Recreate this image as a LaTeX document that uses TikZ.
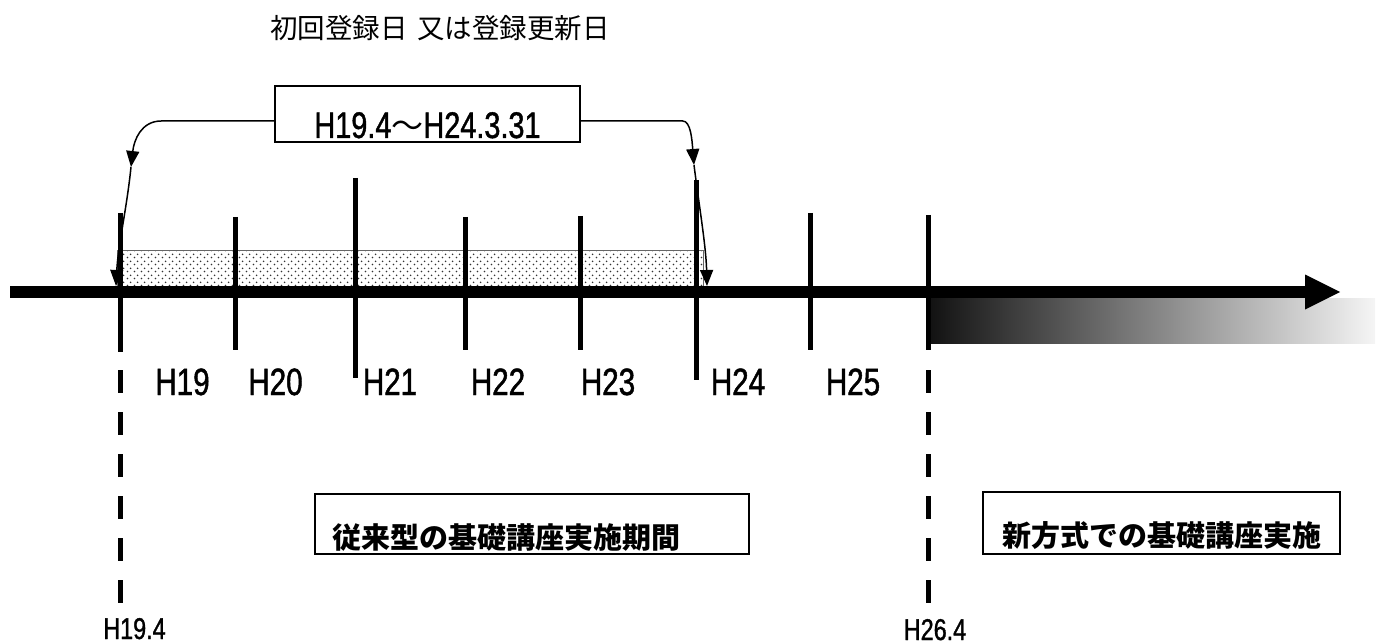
\documentclass[tikz,border=0pt]{standalone}
\usepackage{fontspec}
\setmainfont[FakeStretch=0.78,FakeBold=1.2]{Liberation Sans}
\newfontfamily\jpfont{Noto Sans CJK JP}
\usetikzlibrary{arrows.meta,patterns.meta}

\tikzdeclarepattern{
  name=sparsedots,
  type=uncolored,
  bounding box={(0pt,0pt) and (7pt,7pt)},
  tile size={(7pt,7pt)},
  code={
    \pgfpathcircle{\pgfpoint{1.75pt}{1.75pt}}{1pt}
    \pgfpathcircle{\pgfpoint{5.25pt}{5.25pt}}{1pt}
    \pgfusepath{fill}
  }
}

\begin{document}
\begin{tikzpicture}[x=1pt, y=-1pt,
    yearline/.style={line width=5pt},
    yeardash/.style={line width=5pt, dash pattern=on 23pt off 19pt},
    yearlbl/.style={font=\fontsize{38}{42}\selectfont, inner sep=0pt, anchor=base},
    con/.style={line width=1.5pt, -{Triangle[length=16pt,width=13pt]}},
    period/.style={draw, line width=1.8pt, inner ysep=0pt, align=left, anchor=north west,
        font=\jpfont\bfseries\fontsize{29}{32}\selectfont}]
    \useasboundingbox (0,0) rectangle (1383,644);

    % Title
    \node[font=\jpfont\fontsize{27.5}{30}\selectfont] (title) at (440,28.5) {初回登録日\hspace{10pt}又は登録更新日};

    % Gradient band after H26.4
    \shade[left color=black!93, right color=black!4] (929,298) rectangle (1375,343);

    % Dotted range
    \draw[black!60, line width=1pt, pattern=sparsedots, pattern color=black!80] (117,251) rectangle (703,286);

    % Time axis
    \coordinate (ax0) at (10,292);
    \coordinate (ax1) at (1340,292);
    \draw[line width=12pt, -{Triangle[length=35pt,width=35pt,line width=0pt]}] (ax0) -- (ax1);

    % Year lines
    \draw[yearline] (120,213) -- (120,352);
    \draw[yeardash] (120,370) -- (120,604);
    \draw[yearline] (235,217) -- (235,350);
    \draw[yearline] (355,178) -- (355,378);
    \draw[yearline] (465,217) -- (465,350);
    \draw[yearline] (580,216) -- (580,350);
    \draw[yearline] (696,180) -- (696,380);
    \draw[yearline] (810,213) -- (810,350);
    \draw[yearline] (928,215) -- (928,350);
    \draw[yeardash] (928,370) -- (928,604);

    % Year labels
    \node[yearlbl] (h19) at (182.5,395) {H19};
    \node[yearlbl] (h20) at (275.5,395) {H20};
    \node[yearlbl] (h21) at (390,395) {H21};
    \node[yearlbl] (h22) at (498,395) {H22};
    \node[yearlbl] (h23) at (608,395) {H23};
    \node[yearlbl] (h24) at (738,395) {H24};
    \node[yearlbl] (h25) at (853,395) {H25};
    \node[yearlbl, font=\fontsize{30}{32}\selectfont] (start) at (134.5,639) {H19.4};
    \node[yearlbl, font=\fontsize{30}{32}\selectfont] (switch) at (935,640) {H26.4};

    % Registration range
    \node[draw, line width=1.5pt, minimum width=305pt, inner ysep=0pt, text height=52pt, text depth=4pt,
        font=\fontsize{37}{40}\selectfont] (range) at (427.5,114) {H19.4{\jpfont\fontsize{32}{36}\selectfont ～}H24.3.31};

    % Arrows to the range ends
    \coordinate (lmid) at (131,167);
    \coordinate (lend) at (116,286);
    \coordinate (rmid) at (694,165);
    \coordinate (rend) at (707,286);
    \draw[con] ([yshift=-7pt]range.west) -- ++(-113,0) .. controls +(-20,0) and (134,140) .. (lmid);
    \draw[con] (lmid) .. controls +(-4,40) and +(2,-40) .. (lend);
    \draw[con] ([yshift=-7pt]range.east) -- ++(102,0) .. controls +(8,0) and (692,140) .. (rmid);
    \draw[con] (rmid) .. controls +(5,40) and +(-1,-40) .. (rend);

    % Periods
    \node[period, inner xsep=18pt, text width=398pt, text height=55pt, text depth=5pt] (old) at (314,493) {従来型の基礎講座実施期間};
    \node[period, inner xsep=20pt, text width=317pt, text height=55pt, text depth=7pt] (new) at (982,491) {新方式での基礎講座実施};
\end{tikzpicture}
\end{document}
